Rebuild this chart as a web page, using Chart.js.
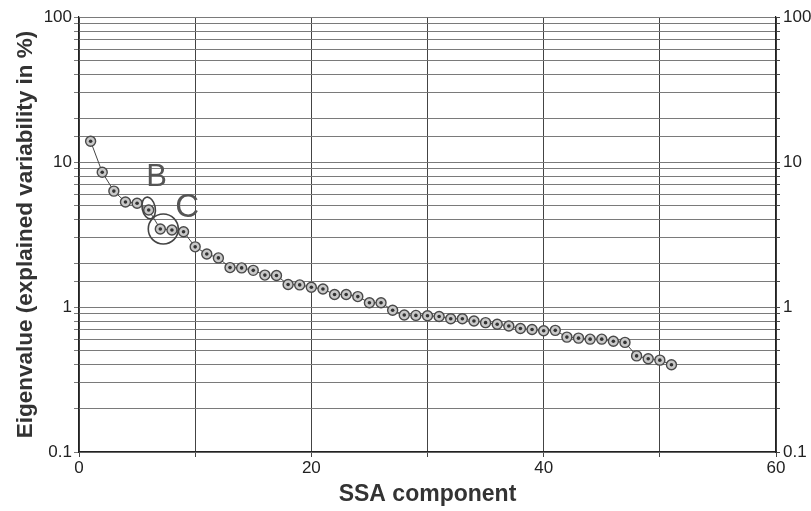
<!DOCTYPE html>
<html>
<head>
<meta charset="utf-8">
<script src="https://cdn.jsdelivr.net/npm/chart.js@4.4.1/dist/chart.umd.min.js"></script>
<style>
  html, body { margin: 0; padding: 0; background: #fff; }
  .wrap { width: 811px; height: 511px; }
</style>
</head>
<body>
<div class="wrap"><canvas class="chart-ssa" width="811" height="511"></canvas></div>
<script>
// SSA eigenvalue spectrum (explained variability in %)
const components = [];
for (let i = 1; i <= 51; i++) components.push(i);

const eigenvalues = [
  13.9, 8.5, 6.3, 5.3, 5.2, 4.67, 3.45, 3.4, 3.3, 2.6,
  2.32, 2.18, 1.87, 1.86, 1.79, 1.66, 1.65, 1.43, 1.42, 1.37,
  1.33, 1.22, 1.22, 1.18, 1.07, 1.07, 0.95, 0.88, 0.875, 0.87,
  0.86, 0.83, 0.83, 0.80, 0.78, 0.76, 0.74, 0.71, 0.70, 0.685,
  0.69, 0.62, 0.61, 0.60, 0.60, 0.58, 0.57, 0.46, 0.44, 0.43,
  0.40,
];

const xTickLabels = [0, 20, 40, 60];
const yTickLabels = [0.1, 1, 10, 100];

// marked components on the plot
const markLetters = ["B", "C"];
const markComponents = [6, 7.6];

const points = components.map((c, i) => ({ x: c, y: eigenvalues[i] }));

const isDecade = (v) => yTickLabels.some((t) => Math.abs(t - v) < 1e-9);
const fixWidth = (w) => (scale) => { scale.width = w; };

const markPlugin = {
  id: "marks",
  afterDatasetsDraw(chart) {
    const { ctx, scales } = chart;
    const xs = scales.x, ys = scales.y;
    ctx.save();
    ctx.strokeStyle = "#444";
    ctx.lineWidth = 1.6;
    ctx.fillStyle = "#555";
    ctx.textAlign = "center";
    ctx.textBaseline = "middle";

    // B: small ellipse round component 6
    const bx = xs.getPixelForValue(markComponents[0]);
    const by = ys.getPixelForValue(eigenvalues[5]);
    ctx.beginPath();
    ctx.ellipse(bx, by - 2, 6.5, 11, -0.2, 0, Math.PI * 2);
    ctx.stroke();
    ctx.font = "31px 'Liberation Sans', Arial, sans-serif";
    ctx.fillText(markLetters[0], bx + 8, by - 32);

    // C: circle round components 7-8
    const cx = xs.getPixelForValue(markComponents[1]);
    const cy = ys.getPixelForValue(eigenvalues[6]);
    ctx.beginPath();
    ctx.arc(cx - 4, cy, 15, 0, Math.PI * 2);
    ctx.stroke();
    ctx.font = "33px 'Liberation Sans', Arial, sans-serif";
    ctx.fillText(markLetters[1], cx + 20, cy - 21);
    ctx.restore();
  },
};

const chart1 = document.querySelector(".chart-ssa");
var ctx = chart1.getContext("2d");
var myChart = new Chart(ctx, {
  type: "scatter",
  data: {
    datasets: [
      {
        data: points,
        order: 2,
        showLine: true,
        borderColor: "#444",
        borderWidth: 1,
        pointRadius: 5,
        pointBorderWidth: 1.4,
        pointBorderColor: "#4a4a4a",
        pointBackgroundColor: "#c8c8c8",
      },
      {
        data: points,
        order: 1,
        showLine: false,
        pointRadius: 1.8,
        pointBorderWidth: 0,
        pointBorderColor: "#333",
        pointBackgroundColor: "#333",
      },
    ],
  },
  options: {
    responsive: false,
    animation: false,
    layout: { padding: { top: 17, left: 0, right: 0, bottom: 0 } },
    plugins: { legend: { display: false }, tooltip: { enabled: false } },
    scales: {
      x: {
        type: "linear",
        min: 0,
        max: 60,
        afterFit: (s) => { s.height = 59; },
        ticks: {
          stepSize: 10,
          autoSkip: false,
          maxRotation: 0,
          padding: 1,
          color: "#222",
          font: { family: "'Liberation Sans', Arial", size: 17 },
          callback: (v) => (xTickLabels.includes(v) ? String(v) : ""),
        },
        grid: { color: "#444", lineWidth: 1, tickLength: 5 },
        border: { color: "#222", width: 1.2 },
        title: {
          display: true,
          text: "SSA component",
          color: "#333",
          padding: { top: 4, bottom: 3 },
          font: { family: "'Liberation Sans', Arial", size: 23, weight: "bold" },
        },
      },
      y: {
        type: "logarithmic",
        position: "left",
        min: 0.1,
        max: 100,
        afterFit: fixWidth(79),
        ticks: {
          autoSkip: false,
          padding: 2,
          color: "#222",
          font: { family: "'Liberation Sans', Arial", size: 17 },
          callback: (v) => (isDecade(v) ? String(v) : ""),
        },
        grid: { color: "#7a7a7a", lineWidth: 1, tickLength: 5 },
        border: { color: "#222", width: 1.2 },
        title: {
          display: true,
          text: "Eigenvalue (explained variability in %)",
          color: "#333",
          padding: { top: 12, bottom: 0 },
          font: { family: "'Liberation Sans', Arial", size: 22.5, weight: "bold" },
        },
      },
      y2: {
        type: "logarithmic",
        position: "right",
        min: 0.1,
        max: 100,
        afterFit: fixWidth(35),
        ticks: {
          autoSkip: false,
          padding: 3,
          color: "#222",
          font: { family: "'Liberation Sans', Arial", size: 17 },
          callback: (v) => (isDecade(v) ? String(v) : ""),
        },
        grid: { drawOnChartArea: false, color: "#444", tickLength: 4 },
        border: { color: "#222", width: 1.2 },
      },
    },
  },
  plugins: [markPlugin],
});
</script>
</body>
</html>
